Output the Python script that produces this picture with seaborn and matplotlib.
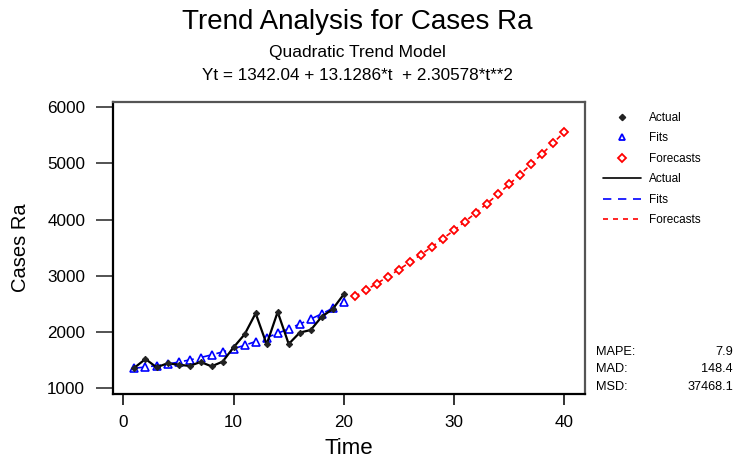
import matplotlib
matplotlib.use("Agg")
import matplotlib.pyplot as plt
from matplotlib.lines import Line2D
import seaborn as sns
import pandas as pd

t_actual = list(range(1, 21))
actual = [1367, 1521, 1373, 1444, 1420, 1397, 1468, 1390, 1474, 1729,
          1960, 2334, 1783, 2358, 1788, 1990, 2037, 2274, 2411, 2672]
fits = [1357.5, 1377.5, 1402.2, 1431.5, 1465.3, 1503.8, 1546.9, 1594.6, 1647.0, 1703.9,
        1765.5, 1831.6, 1902.4, 1977.8, 2057.8, 2142.4, 2231.6, 2325.4, 2423.9, 2526.9]
t_fc = list(range(21, 41))
forecasts = [2634.6, 2746.9, 2863.8, 2985.3, 3111.4, 3242.1, 3377.4, 3517.4, 3661.9, 3811.1,
             3964.9, 4123.3, 4286.3, 4453.9, 4626.1, 4803.0, 4984.4, 5170.5, 5361.2, 5556.4]
x_ticks = [0, 10, 20, 30, 40]
y_ticks = [1000, 2000, 3000, 4000, 5000, 6000]
stats_names = ["MAPE:", "MAD:", "MSD:"]
stats_vals = ["7.9", "148.4", "37468.1"]

sns.set_style("white")
plt.rcParams['font.family'] = ['Liberation Sans', 'DejaVu Sans']
plt.rcParams['text.color'] = 'black'
plt.rcParams['axes.labelcolor'] = 'black'
plt.rcParams['xtick.color'] = 'black'
plt.rcParams['ytick.color'] = 'black'

df_a = pd.DataFrame({"t": t_actual, "v": actual})
df_f = pd.DataFrame({"t": t_actual, "v": fits})
df_c = pd.DataFrame({"t": t_fc, "v": forecasts})

fig = plt.figure(figsize=(7.34, 4.59), dpi=100)
ax = fig.add_axes([113/734, 1-394/459, (585-113)/734, (394-101.5)/459])

sns.lineplot(data=df_c, x="t", y="v", ax=ax, color="red", lw=1.2,
             linestyle=(0, (3, 2.5)), marker="D", markersize=4.5,
             markerfacecolor="white", markeredgecolor="red", markeredgewidth=1.3)
sns.lineplot(data=df_f, x="t", y="v", ax=ax, color="blue", lw=1.2,
             linestyle=(0, (6, 4)), marker="^", markersize=5.5,
             markerfacecolor="white", markeredgecolor="blue", markeredgewidth=1.2)
sns.lineplot(data=df_a, x="t", y="v", ax=ax, color="black", lw=1.6,
             marker="D", markersize=3.2, markerfacecolor="#222222",
             markeredgecolor="#222222")

ax.set_xlim(-0.95, 41.9)
ax.set_ylim(898, 6103)
ax.set_xticks(x_ticks)
ax.set_yticks(y_ticks)
ax.tick_params(axis="y", direction="out", length=12, width=1.3, color="#444444",
               labelsize=12.3, pad=8, left=True)
ax.tick_params(axis="x", direction="out", length=8, width=1.3, color="#222222",
               labelsize=12.3, pad=7, bottom=True)
for s in ["left", "bottom"]:
    ax.spines[s].set_color("black")
    ax.spines[s].set_linewidth(1.6)
for s in ["top", "right"]:
    ax.spines[s].set_color("#555555")
    ax.spines[s].set_linewidth(1.6)
ax.set_xlabel("Time", fontsize=16, labelpad=6)
ax.set_ylabel("Cases Ra", fontsize=14.5, labelpad=12)

fig.text(357/734, 1-22/459, "Trend Analysis for Cases Ra", ha="center", va="center", fontsize=20)
fig.text(357/734, 1-52/459, "Quadratic Trend Model", ha="center", va="center", fontsize=12.5)
fig.text(357/734, 1-76/459, "Yt = 1342.04 + 13.1286*t  + 2.30578*t**2", ha="center", va="center", fontsize=12.3)

handles = [
    Line2D([], [], ls="none", marker="D", markersize=3.2, color="#222222"),
    Line2D([], [], ls="none", marker="^", markersize=5, markerfacecolor="white",
           markeredgecolor="blue", markeredgewidth=1.3),
    Line2D([], [], ls="none", marker="D", markersize=4.5, markerfacecolor="white",
           markeredgecolor="red", markeredgewidth=1.3),
    Line2D([], [], color="black", lw=1.2),
    Line2D([], [], color="blue", lw=1.2, ls=(0, (5, 4))),
    Line2D([], [], color="red", lw=1.2, ls=(0, (3, 3))),
]
labels = ["Actual", "Fits", "Forecasts", "Actual", "Fits", "Forecasts"]
fig.legend(handles, labels, loc="upper left", bbox_to_anchor=(598/734, 1-107/459),
           frameon=False, fontsize=8.5, handlelength=3.2, handletextpad=0.7,
           labelspacing=0.72, borderaxespad=0)

for i, (n, v) in enumerate(zip(stats_names, stats_vals)):
    y = 1 - (352 + i*17.5)/459
    fig.text(596/734, y, n, ha="left", va="center", fontsize=9.2)
    fig.text(733/734, y, v, ha="right", va="center", fontsize=9.2)

fig.savefig("out.png", dpi=100)
